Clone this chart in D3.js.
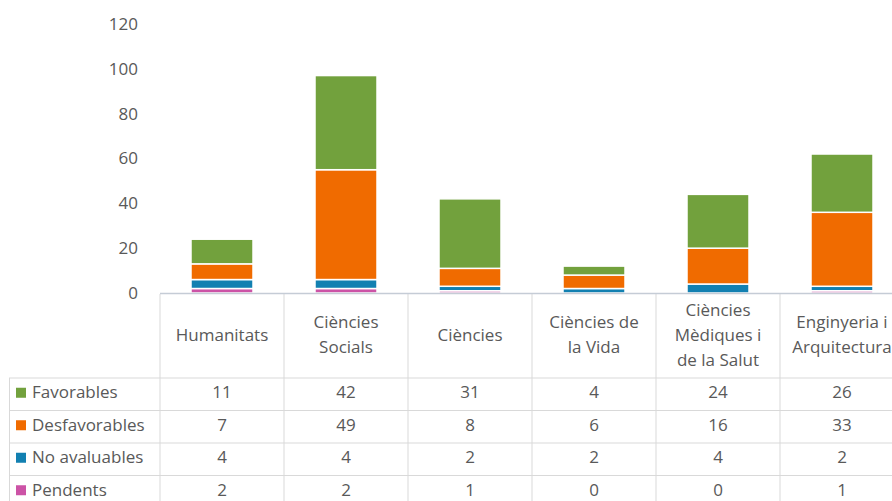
<!DOCTYPE html>
<html>
<head>
<meta charset="utf-8">
<script src="https://cdn.jsdelivr.net/npm/d3@7"></script>
<style>
  html, body { margin: 0; padding: 0; background: #fff; }
  svg { display: block; font-family: "Open Sans", sans-serif; }
</style>
</head>
<body>
<svg id="chart" width="892" height="501"></svg>
<script>
// ---- data ----
const categories = ["Humanitats", "Ciències Socials", "Ciències", "Ciències de la Vida", "Ciències Mèdiques i de la Salut", "Enginyeria i Arquitectura"];
const categoryLines = [["Humanitats"], ["Ciències", "Socials"], ["Ciències"], ["Ciències de", "la Vida"], ["Ciències", "Mèdiques i", "de la Salut"], ["Enginyeria i", "Arquitectura"]];
const seriesNames = ["Favorables", "Desfavorables", "No avaluables", "Pendents"];
const favorables = [11, 42, 31, 4, 24, 26];
const desfavorables = [7, 49, 8, 6, 16, 33];
const noAvaluables = [4, 4, 2, 2, 4, 2];
const pendents = [2, 2, 1, 0, 0, 1];
const yTicks = [0, 20, 40, 60, 80, 100, 120];
const seriesColors = ["#72a13d", "#f06b00", "#1280b1", "#cc53a6"];

const seriesValues = [favorables, desfavorables, noAvaluables, pendents];

// table rows built from arrays
const rows = categories.map((c, i) => {
  const r = { cat: c };
  seriesNames.forEach((s, k) => r[s] = seriesValues[k][i]);
  return r;
});

const svg = d3.select("#chart");
const textColor = "#595959";
const gridColor = "#d9d9d9";

const x = d3.scaleBand().domain(categories).range([160, 904]).paddingInner(0.5).paddingOuter(0.25);
const y = d3.scaleLinear().domain([0, 120]).range([293, 24]);

// Stack: bottom Pendents -> top Favorables
const stackKeys = seriesNames.slice().reverse();
const stack = d3.stack().keys(stackKeys)(rows);
const color = d3.scaleOrdinal().domain(seriesNames).range(seriesColors);

// y axis labels
const yAxis = d3.axisLeft(y).tickValues(yTicks).tickSize(0).tickPadding(22);
const ga = svg.append("g").attr("transform", "translate(160,0)").call(yAxis);
ga.select(".domain").remove();
ga.selectAll("text").attr("fill", textColor).style("font-size", "17px").style("font-family", "'Open Sans', sans-serif");

// bars
svg.append("g").selectAll("g").data(stack).join("g")
  .attr("fill", d => color(d.key))
  .selectAll("rect").data(d => d.filter(p => p[1] - p[0] > 0)).join("rect")
  .attr("x", d => x(d.data.cat))
  .attr("width", x.bandwidth())
  .attr("y", d => y(d[1]))
  .attr("height", d => y(d[0]) - y(d[1]))
  .attr("stroke", "#fff")
  .attr("stroke-width", 1.5);

// table geometry
const step = x.step();
const colEdges = d3.range(categories.length + 1).map(i => 160 + i * step);
const headerTop = 294, headerBottom = 378, rowH = 32.5;
const rowTops = seriesNames.map((s, i) => headerBottom + i * rowH);
const tableBottom = headerBottom + seriesNames.length * rowH;

const grid = svg.append("g").attr("stroke", gridColor).attr("stroke-width", 1);
// vertical lines
colEdges.forEach(xe => {
  grid.append("line").attr("x1", xe).attr("x2", xe).attr("y1", headerTop).attr("y2", tableBottom);
});
grid.append("line").attr("x1", 9.5).attr("x2", 9.5).attr("y1", headerBottom).attr("y2", tableBottom);
// horizontal lines
[headerBottom, ...rowTops.slice(1), tableBottom].forEach(yy => {
  grid.append("line").attr("x1", 9).attr("x2", 892).attr("y1", yy).attr("y2", yy);
});

// axis baseline
svg.append("line").attr("x1", 160).attr("x2", 892).attr("y1", 293.5).attr("y2", 293.5)
  .attr("stroke", "#c5ccd6").attr("stroke-width", 1.5);

// header labels
const hdr = svg.append("g").attr("fill", textColor).attr("font-size", 17).attr("text-anchor", "middle");
categories.forEach((c, i) => {
  const lines = categoryLines[i];
  const cx = x(c) + x.bandwidth() / 2;
  const t = hdr.append("text").attr("x", cx).attr("y", 335 - (lines.length - 1) * 12.5);
  lines.forEach((ln, j) => {
    t.append("tspan").attr("x", cx).attr("dy", j === 0 ? "0.35em" : 25).text(ln);
  });
});

// legend column + values
const body = svg.append("g").attr("fill", textColor).attr("font-size", 17);
seriesNames.forEach((s, k) => {
  const cy = rowTops[k] + rowH / 2 - 1.5;
  body.append("rect").attr("x", 16).attr("y", cy - 5).attr("width", 10).attr("height", 10).attr("fill", color(s));
  body.append("text").attr("x", 32).attr("y", cy).attr("dy", "0.32em").text(s);
  categories.forEach((c, i) => {
    body.append("text").attr("x", x(c) + x.bandwidth() / 2).attr("y", cy).attr("dy", "0.32em")
      .attr("text-anchor", "middle").text(seriesValues[k][i]);
  });
});
</script>
</body>
</html>
